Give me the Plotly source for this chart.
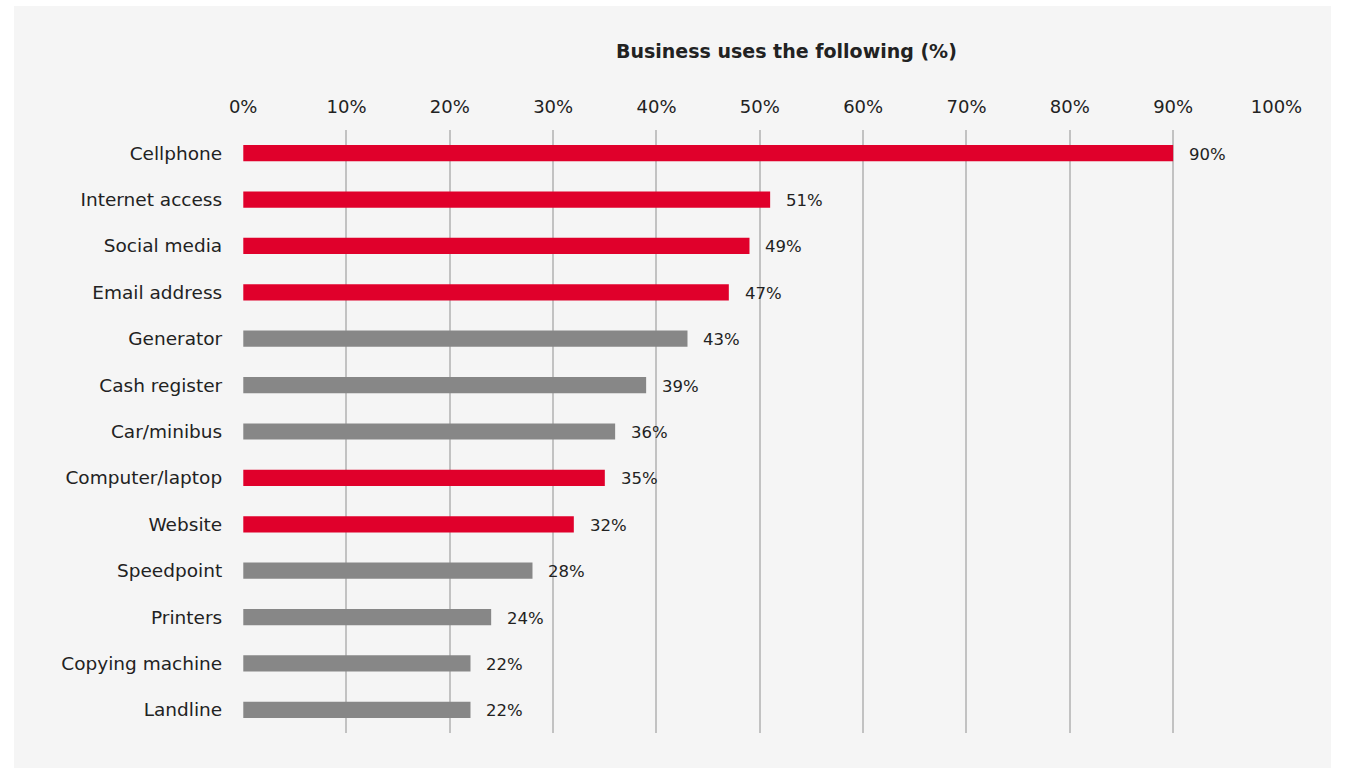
import plotly.graph_objects as go

# Share of businesses using each item
categories = ["Cellphone", "Internet access", "Social media", "Email address",
              "Generator", "Cash register", "Car/minibus", "Computer/laptop",
              "Website", "Speedpoint", "Printers", "Copying machine", "Landline"]
values = [90, 51, 49, 47, 43, 39, 36, 35, 32, 28, 24, 22, 22]
digital = [True, True, True, True, False, False, False, True, True,
           False, False, False, False]
tick_values = [0, 10, 20, 30, 40, 50, 60, 70, 80, 90, 100]
tick_labels = [f"{v}%" for v in tick_values]

RED = "#e0002b"
GREY = "#878787"
TEXT = "#222222"
FONT = "DejaVu Sans"

W, H = 1357, 769
# horizontal placement of the plot area and title (paper fractions)
x_domain = [0.1740, 0.9586]
title_x = 0.5864
# vertical placement in pixels from the top
y_top_px, y_bot_px = 130, 733

colors = [RED if d else GREY for d in digital]

fig = go.Figure()
fig.add_trace(go.Bar(
    y=categories,
    x=values,
    orientation="h",
    marker=dict(color=colors, line=dict(width=0)),
    width=0.35,
    hoverinfo="skip",
))

# value labels to the right of each bar
for cat, val in zip(categories, values):
    fig.add_annotation(
        x=val, y=cat, xref="x", yref="y",
        text=f"{val}%", showarrow=False,
        xanchor="left", yanchor="middle", xshift=14, yshift=-1,
        font=dict(family=FONT, size=16.5, color=TEXT),
    )

# chart title
fig.add_annotation(
    x=title_x, y=1 - 51 / H, xref="paper", yref="paper",
    text="<b>Business uses the following (%)</b>", showarrow=False,
    xanchor="center", yanchor="middle",
    font=dict(family=FONT, size=19, color=TEXT),
)

fig.update_layout(
    width=W, height=H,
    autosize=False,
    margin=dict(l=0, r=0, t=0, b=0),
    paper_bgcolor="white",
    plot_bgcolor="rgba(0,0,0,0)",
    showlegend=False,
    bargap=0.65,
    shapes=[dict(
        type="rect", xref="paper", yref="paper", layer="below",
        x0=0, x1=1, y0=1 - 768 / H, y1=1 - 6 / H,
        fillcolor="#f5f5f5", line=dict(width=0),
    )],
    xaxis=dict(
        domain=x_domain,
        range=[0, 100],
        side="top",
        tickvals=tick_values,
        ticktext=tick_labels,
        showgrid=True, gridcolor="#c2c2c2", gridwidth=1.5,
        zeroline=False, showline=False, ticks="",
        ticklabelstandoff=12,
        tickfont=dict(family=FONT, size=18, color=TEXT),
        fixedrange=True,
    ),
    yaxis=dict(
        domain=[1 - y_bot_px / H, 1 - y_top_px / H],
        autorange=False,
        range=[12.5, -0.5],
        categoryorder="array", categoryarray=categories,
        showgrid=False, zeroline=False, showline=False, ticks="",
        ticklabelstandoff=20,
        tickfont=dict(family=FONT, size=18.5, color=TEXT),
        fixedrange=True,
    ),
)

fig.write_html("out.html", config={"displayModeBar": False})
